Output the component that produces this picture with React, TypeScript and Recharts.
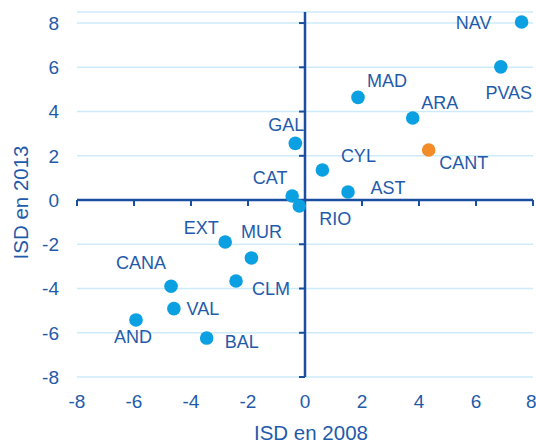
import {
  CartesianGrid,
  Label,
  ReferenceLine,
  Scatter,
  ScatterChart,
  XAxis,
  YAxis,
} from "recharts";

// Regions and their ISD values (2008 vs 2013)
const regions = ["NAV", "PVAS", "MAD", "ARA", "GAL", "CANT", "CYL", "AST", "CAT", "RIO", "EXT", "MUR", "CLM", "CANA", "VAL", "AND", "BAL"];
const isd2008 = [7.6, 6.87, 1.86, 3.78, -0.34, 4.34, 0.61, 1.51, -0.45, -0.2, -2.8, -1.88, -2.42, -4.7, -4.6, -5.93, -3.45];
const isd2013 = [8.05, 6.02, 4.64, 3.71, 2.56, 2.26, 1.36, 0.36, 0.18, -0.27, -1.9, -2.62, -3.66, -3.9, -4.91, -5.42, -6.24];
const highlighted = ["CANT"];

const xTicks = [-8, -6, -4, -2, 0, 2, 4, 6, 8];
const yTicks = [-8, -6, -4, -2, 0, 2, 4, 6, 8];
const xDomain: [number, number] = [-8, 8];
const yDomain: [number, number] = [-8, 8.5];

// where each region's name sits relative to its dot (px)
const labelOffset: Record<string, [number, number]> = {
  NAV: [-48, 1],
  PVAS: [8, 26],
  MAD: [29, -16],
  ARA: [27, -15],
  GAL: [-9, -18],
  CANT: [35, 13],
  CYL: [36, -14],
  AST: [40, -4],
  CAT: [-22, -18],
  RIO: [36, 13],
  EXT: [-24, -14],
  MUR: [10, -26],
  CLM: [35, 8],
  CANA: [-30, -23],
  VAL: [29, 0],
  AND: [-3, 17],
  BAL: [35, 4],
};

const TEXT = "#1F5BAA";
const AXIS = "#1A4E9E";
const GRID = "#CDEBFA";
const BLUE = "#0BA0E2";
const ORANGE = "#F28C28";
const FONT = '"Liberation Sans", Arial, sans-serif';

const points = regions.map((name, i) => ({ name, x: isd2008[i], y: isd2013[i] }));
const bluePoints = points.filter((p) => !highlighted.includes(p.name));
const orangePoints = points.filter((p) => highlighted.includes(p.name));

function dotWithName(color: string) {
  return (props: any) => {
    const { cx, cy, payload } = props;
    const [dx, dy] = labelOffset[payload.name] ?? [0, -16];
    return (
      <g>
        <circle cx={cx} cy={cy} r={6.8} fill={color} />
        <text
          x={cx + dx}
          y={cy + dy}
          textAnchor="middle"
          dominantBaseline="central"
          fill={TEXT}
          fontSize={18}
          fontFamily={FONT}
        >
          {payload.name}
        </text>
      </g>
    );
  };
}

// vertical axis drawn through x = 0, ticks pointing left
function VerticalZeroAxis(props: any) {
  const { x1, y1, y2 } = props;
  const top = Math.min(y1, y2);
  const bottom = Math.max(y1, y2);
  const toPx = (v: number) => bottom - ((v - yDomain[0]) / (yDomain[1] - yDomain[0])) * (bottom - top);
  return (
    <g>
      <line x1={x1} x2={x1} y1={top} y2={bottom} stroke={AXIS} strokeWidth={2.5} />
      {yTicks.map((t) => (
        <line key={t} x1={x1 - 6} x2={x1} y1={toPx(t)} y2={toPx(t)} stroke={AXIS} strokeWidth={2} />
      ))}
    </g>
  );
}

// horizontal axis drawn through y = 0, ticks pointing down
function HorizontalZeroAxis(props: any) {
  const { x1, x2, y1 } = props;
  const left = Math.min(x1, x2);
  const right = Math.max(x1, x2);
  const toPx = (v: number) => left + ((v - xDomain[0]) / (xDomain[1] - xDomain[0])) * (right - left);
  return (
    <g>
      <line x1={left} x2={right} y1={y1} y2={y1} stroke={AXIS} strokeWidth={2.5} />
      {xTicks.map((t) => (
        <line key={t} x1={toPx(t)} x2={toPx(t)} y1={y1} y2={y1 + 6} stroke={AXIS} strokeWidth={2} />
      ))}
    </g>
  );
}

const tickStyle = { fill: TEXT, fontSize: 19, fontFamily: FONT };

export default function App() {
  return (
    <div style={{ position: "absolute", left: 0, top: 0, background: "#fff" }}>
      <ScatterChart width={536} height={443} margin={{ top: 12, right: 3, bottom: 0, left: 0 }}>
        <CartesianGrid vertical={false} stroke={GRID} strokeWidth={1.5} />
        <XAxis
          type="number"
          dataKey="x"
          domain={xDomain}
          ticks={xTicks}
          axisLine={false}
          tickLine={false}
          tickSize={6}
          tickMargin={12}
          height={66}
          tick={tickStyle}
          allowDataOverflow
        >
          <Label
            content={({ viewBox }: any) => (
              <text
                x={viewBox.x + viewBox.width / 2 + 6}
                y={viewBox.y + viewBox.height - 3}
                textAnchor="middle"
                fill={TEXT}
                fontSize={20.5}
                fontFamily={FONT}
              >
                ISD en 2008
              </text>
            )}
          />
        </XAxis>
        <YAxis
          type="number"
          dataKey="y"
          domain={yDomain}
          ticks={yTicks}
          axisLine={false}
          tickLine={false}
          tickSize={6}
          tickMargin={12}
          width={77}
          tick={tickStyle}
          allowDataOverflow
        >
          <Label
            content={({ viewBox }: any) => (
              <text
                transform={`translate(${20}, ${viewBox.y + viewBox.height / 2 + 8}) rotate(-90)`}
                textAnchor="middle"
                dominantBaseline="central"
                fill={TEXT}
                fontSize={20.5}
                fontFamily={FONT}
              >
                ISD en 2013
              </text>
            )}
          />
        </YAxis>
        <ReferenceLine y={0} shape={HorizontalZeroAxis} />
        <ReferenceLine x={0} shape={VerticalZeroAxis} />
        <Scatter data={bluePoints} shape={dotWithName(BLUE)} isAnimationActive={false} />
        <Scatter data={orangePoints} shape={dotWithName(ORANGE)} isAnimationActive={false} />
      </ScatterChart>
    </div>
  );
}
